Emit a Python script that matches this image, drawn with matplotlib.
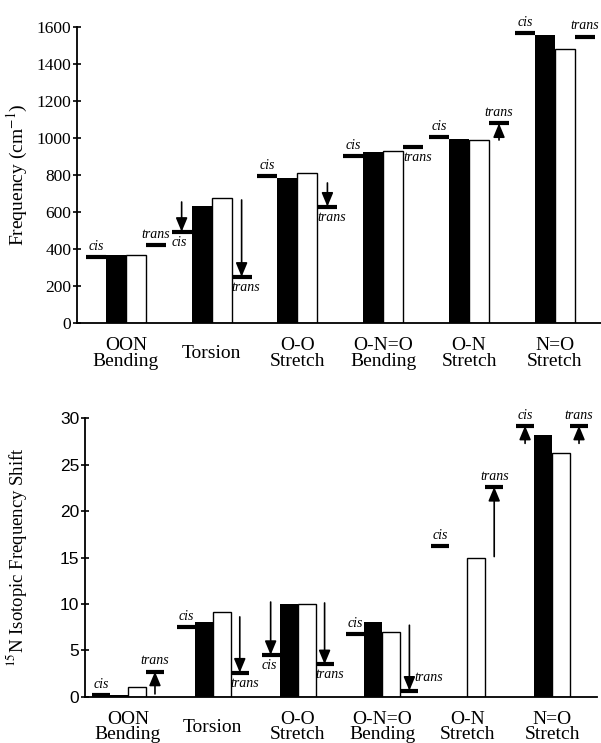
import matplotlib
matplotlib.use("Agg")
import matplotlib.pyplot as plt
import numpy as np

plt.rcParams["font.family"] = "Liberation Serif"
plt.rcParams["mathtext.fontset"] = "stix"

# categories (vibrational modes)
categories = ["OON\nBending", "Torsion", "O-O\nStretch", "O-N=O\nBending", "O-N\nStretch", "N=O\nStretch"]

# top panel: frequencies (cm-1)
freq_cis_exp = [358, 493, 796, 900, 1003, 1566]
freq_calc_black = [365, 634, 783, 922, 997, 1557]
freq_calc_white = [365, 675, 810, 931, 989, 1479]
freq_trans_exp = [422, 250, 629, 953, 1079, 1548]
freq_cis_arrow_from = [None, 654, None, None, None, None]
freq_trans_arrow_from = [None, 665, 757, None, 989, None]

# bottom panel: 15N isotopic shifts
shift_cis_exp = [0.2, 7.5, 4.5, 6.75, 16.2, 29.2]
shift_calc_black = [0.15, 8.1, 10.0, 8.1, 0.0, 28.2]
shift_calc_white = [1.0, 9.1, 10.0, 7.0, 15.0, 26.3]
shift_trans_exp = [2.7, 2.6, 3.5, 0.65, 22.6, 29.2]
shift_cis_arrow_from = [None, None, 10.2, None, None, 27.3]
shift_trans_arrow_from = [0.3, 8.6, 10.1, 7.7, 15.1, 27.3]

# where the cis / trans words go
top_cis_pos = ["above", "below", "above", "above", "above", "above"]
top_trans_pos = ["above", "below", "below", "below", "above", "above"]
bot_cis_pos = ["above", "above", "below", "above", "above", "above"]
bot_trans_pos = ["above", "below", "below", "right", "above", "above"]


def draw_level(ax, x0, s, val, word, pos, arrow_from):
    ax.hlines(val, x0, x0 + s, colors="k", lw=3, zorder=4, clip_on=False)
    kw = dict(fontsize=10, style="italic", textcoords="offset points", annotation_clip=False)
    if pos == "above":
        ax.annotate(word, (x0 + s / 2, val), xytext=(0, 3), ha="center", va="bottom", **kw)
    elif pos == "below":
        ax.annotate(word, (x0, val), xytext=(0, -3), ha="left", va="top", **kw)
    else:
        ax.annotate(word, (x0 + s, val), xytext=(-3, 5), ha="left", va="bottom", **kw)
    if arrow_from is not None:
        ax.annotate("", xy=(x0 + s / 2, val), xytext=(x0 + s / 2, arrow_from),
                    arrowprops=dict(arrowstyle="-|>,head_width=0.25,head_length=0.6",
                                    mutation_scale=14, lw=1.2, color="k",
                                    shrinkA=0, shrinkB=0), zorder=5)


def draw_panel(ax, s, cis, black, white, trans, cis_arr, trans_arr, cis_pos, trans_pos):
    x = np.arange(len(categories))
    ax.bar(x - s, black, width=s, align="edge", color="k", zorder=2)
    ax.bar(x, white, width=s, align="edge", facecolor="white", edgecolor="k", lw=1, zorder=2)
    for i in range(len(categories)):
        draw_level(ax, x[i] - 2 * s, s, cis[i], "cis", cis_pos[i], cis_arr[i])
        draw_level(ax, x[i] + s, s, trans[i], "trans", trans_pos[i], trans_arr[i])
    for i, lab in enumerate(categories):
        ax.annotate(lab, (x[i], 0), xycoords=("data", "axes fraction"), xytext=(0, -22),
                    textcoords="offset points", ha="center", va="center",
                    fontsize=14, linespacing=0.88, annotation_clip=False)
    ax.set_xticks([])
    ax.spines["top"].set_visible(False)
    ax.spines["right"].set_visible(False)
    ax.spines["left"].set_linewidth(1.3)
    ax.spines["bottom"].set_linewidth(1.3)
    ax.tick_params(axis="y", direction="inout", length=6, width=1.2)


fig = plt.figure(figsize=(6.01, 7.43), dpi=100)

ax1 = fig.add_axes([77 / 601, (743 - 323) / 743, 524 / 601, 296 / 743])
draw_panel(ax1, 0.233, freq_cis_exp, freq_calc_black, freq_calc_white, freq_trans_exp,
           freq_cis_arrow_from, freq_trans_arrow_from, top_cis_pos, top_trans_pos)
ax1.set_xlim(-0.569, 5.538)
ax1.set_ylim(0, 1600)
ax1.set_yticks(np.arange(0, 1601, 200))
ax1.tick_params(axis="y", labelsize=12.5, pad=1)
ax1.set_ylabel("Frequency (cm$^{-1}$)", fontsize=14)
ax1.yaxis.set_label_coords(-0.09, 0.5)

ax2 = fig.add_axes([85 / 601, (743 - 696.7) / 743, 512 / 601, 278.4 / 743])
draw_panel(ax2, 0.212, shift_cis_exp, shift_calc_black, shift_calc_white, shift_trans_exp,
           shift_cis_arrow_from, shift_trans_arrow_from, bot_cis_pos, bot_trans_pos)
ax2.set_xlim(-0.507, 5.53)
ax2.set_ylim(0, 30)
ax2.set_yticks(np.arange(0, 31, 5))
for t in ax2.get_yticklabels():
    t.set_fontfamily("Liberation Sans")
ax2.tick_params(axis="y", labelsize=12.5, pad=1)
ax2.set_ylabel("$^{15}$N Isotopic Frequency Shift", fontsize=13.5)
ax2.yaxis.set_label_coords(-0.11, 0.5)

fig.savefig("out.png", dpi=100)
